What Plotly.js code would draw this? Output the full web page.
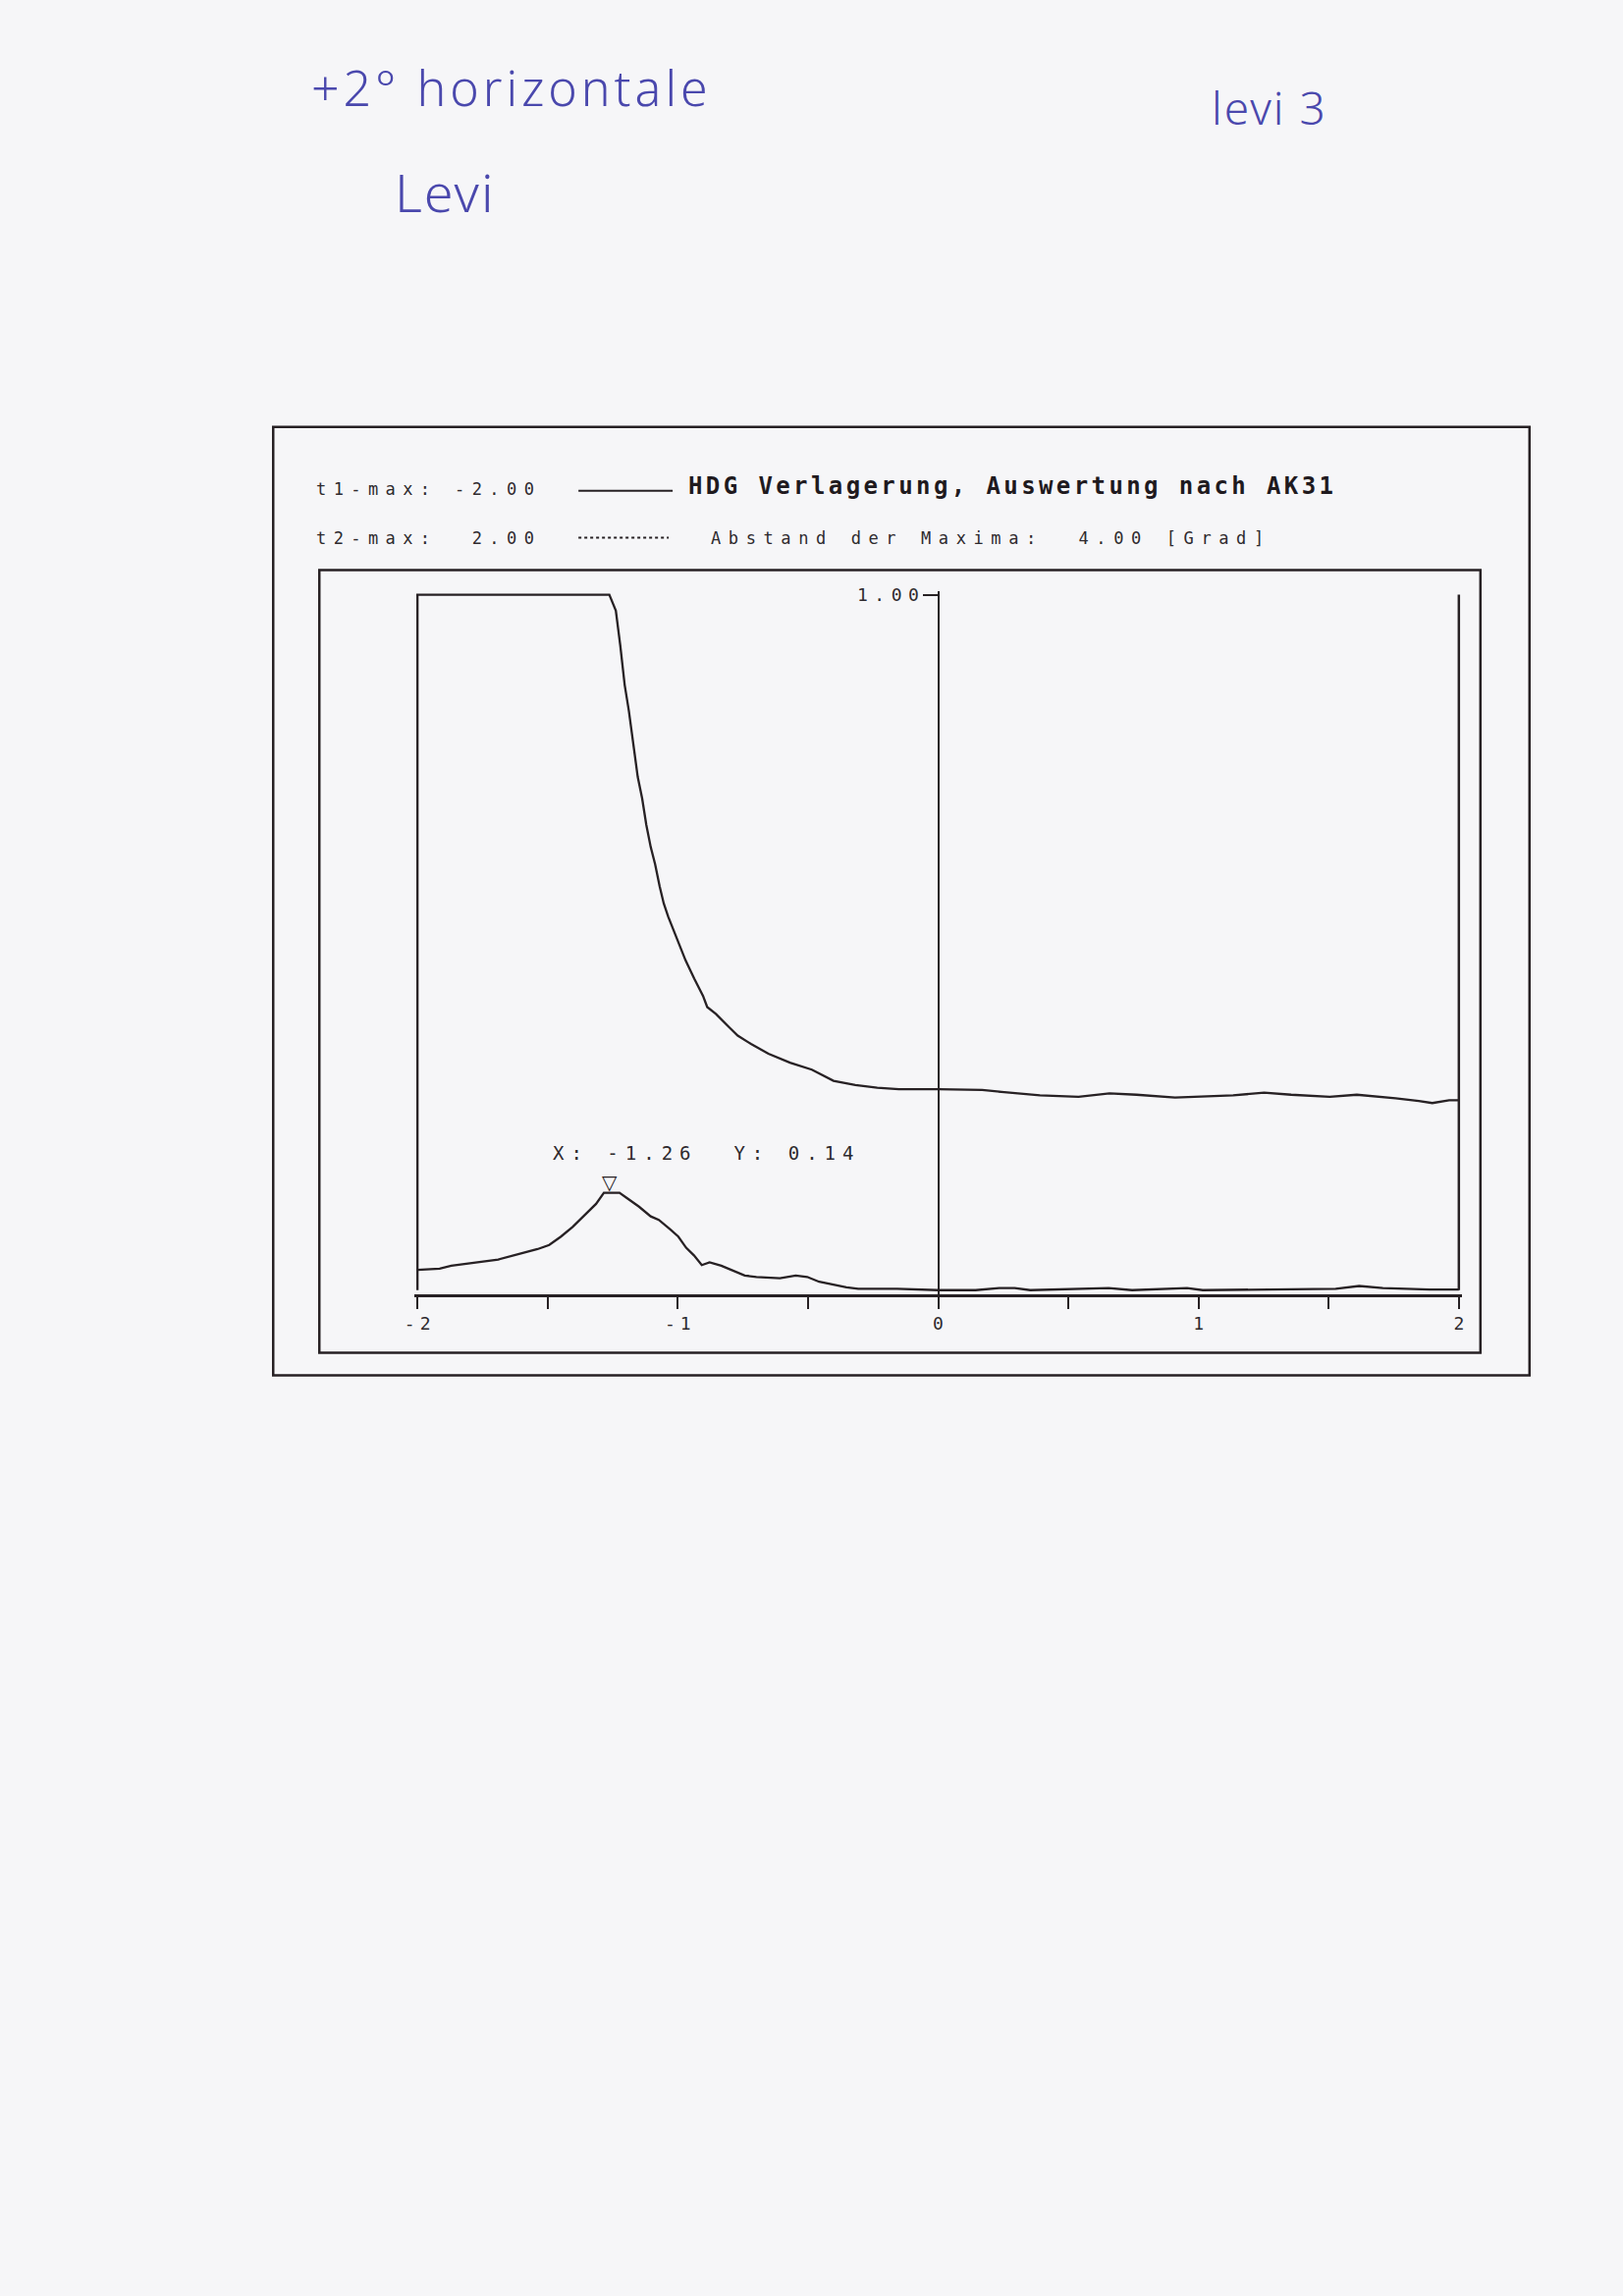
<!DOCTYPE html>
<html>
<head>
<meta charset="utf-8">
<script src="https://cdn.plot.ly/plotly-3.0.1.min.js"></script>
<style>
html,body{margin:0;padding:0;background:#f6f6f8;}
#chart{width:1653px;height:2338px;}
</style>
</head>
<body>
<div id="chart"></div>
<script>
// ---------------- data ----------------
const t1X = [-2.0, -2.0, -1.263, -1.238, -1.221, -1.204, -1.188, -1.171, -1.154, -1.137, -1.121, -1.104,
  -1.087, -1.070, -1.054, -1.037, -1.004, -0.970, -0.937, -0.903, -0.887, -0.853, -0.803, -0.770,
  -0.719, -0.652, -0.569, -0.485, -0.402, -0.318, -0.234, -0.151, 0.0, 0.169, 0.243, 0.391, 0.539,
  0.658, 0.762, 0.910, 1.133, 1.252, 1.356, 1.504, 1.608, 1.712, 1.757, 1.846, 1.898, 1.963, 2.0];
const t1Y = [0.0, 1.0, 1.0, 0.977, 0.927, 0.870, 0.833, 0.789, 0.738, 0.707, 0.669, 0.637,
  0.612, 0.581, 0.556, 0.537, 0.505, 0.474, 0.448, 0.423, 0.407, 0.397, 0.378, 0.366,
  0.354, 0.340, 0.327, 0.317, 0.301, 0.295, 0.291, 0.289, 0.289, 0.288, 0.285, 0.280, 0.278,
  0.283, 0.281, 0.277, 0.280, 0.284, 0.281, 0.278, 0.281, 0.278, 0.276, 0.272, 0.269, 0.273, 0.273];

const t2X = [-2.0, -1.915, -1.870, -1.780, -1.690, -1.599, -1.539, -1.494, -1.449, -1.404, -1.359,
  -1.314, -1.284, -1.26, -1.224, -1.194, -1.149, -1.104, -1.073, -1.028, -0.998, -0.968, -0.938,
  -0.908, -0.878, -0.833, -0.788, -0.743, -0.698, -0.608, -0.547, -0.503, -0.457, -0.397, -0.352,
  -0.307, -0.157, 0.0, 0.144, 0.234, 0.294, 0.354, 0.535, 0.655, 0.745, 0.956, 1.016, 1.226,
  1.527, 1.617, 1.708, 1.888, 2.0];
const t2Y = [0.029, 0.031, 0.035, 0.039, 0.044, 0.053, 0.059, 0.065, 0.077, 0.091, 0.107,
  0.124, 0.140, 0.140, 0.140, 0.132, 0.120, 0.106, 0.101, 0.087, 0.077, 0.061, 0.050,
  0.036, 0.040, 0.035, 0.028, 0.021, 0.019, 0.017, 0.021, 0.019, 0.012, 0.007, 0.004,
  0.002, 0.002, 0.0, 0.0, 0.003, 0.003, 0.0, 0.002, 0.003, 0.0, 0.003, 0.0, 0.001,
  0.002, 0.006, 0.003, 0.001, 0.001];

const xTickVals = [-2, -1.5, -1, -0.5, 0, 0.5, 1, 1.5, 2];
const xTickLabels = ['-2', '', '-1', '', '0', '', '1', '', '2'];
const yTickVals = [1];
const yTickLabels = ['1.00'];

const peakX = -1.26;
const peakY = 0.14;
const t1Max = -2.00;
const t2Max = 2.00;
const maxDistance = 4.00;
const chartTitle = 'HDG Verlagerung, Auswertung nach AK31';
const distanceLabel = 'Abstand der Maxima';
const unitLabel = '[Grad]';
const handNotes = ['+2° horizontale', 'Levi', 'levi 3'];

// ---------------- geometry helpers ----------------
const W = 1653, H = 2338;
const X_RANGE = [-2.012, 2.012];
const Y_RANGE = [-0.006, 1.005];
const L = 421.8, R = 1489.2, T = 601.5, B = 1318.5;
const px = x => (x - L) / (R - L);
const py = y => (B - y) / (B - T);
const INK = '#272124';
const TXT = '#2e2a2e';
const BLUE = '#4a48ad';
const MONO = 'DejaVu Sans Mono, Liberation Mono, monospace';

function spaced(str, ls) {
  if (!str || str.length < 2) return str;
  return '<span style="letter-spacing:' + ls + 'px">' + str.slice(0, -1) + '</span>' + str.slice(-1);
}

const traces = [
  {x: t1X, y: t1Y, type: 'scatter', mode: 'lines', name: 't1',
   line: {color: INK, width: 2.3}, hoverinfo: 'skip'},
  {x: t2X, y: t2Y, type: 'scatter', mode: 'lines', name: 't2',
   line: {color: INK, width: 2.3}, hoverinfo: 'skip'}
];

const smallFont = {family: MONO, size: 17, color: TXT};

const annotations = [
  {xref: 'paper', yref: 'paper', x: px(320), y: py(497), xanchor: 'left', yanchor: 'middle',
   text: spaced('t1-max: ' + t1Max.toFixed(2), 7.4), showarrow: false, font: smallFont},
  {xref: 'paper', yref: 'paper', x: px(320), y: py(547), xanchor: 'left', yanchor: 'middle',
   text: spaced('t2-max:  ' + t2Max.toFixed(2), 7.4), showarrow: false, font: smallFont},
  {xref: 'paper', yref: 'paper', x: px(699), y: py(494), xanchor: 'left', yanchor: 'middle',
   text: spaced(chartTitle, 3.4), showarrow: false,
   font: {family: MONO, size: 24, color: '#1f1a1e', weight: 'bold'}},
  {xref: 'paper', yref: 'paper', x: px(722), y: py(547), xanchor: 'left', yanchor: 'middle',
   text: spaced(distanceLabel + ':  ' + maxDistance.toFixed(2) + ' ' + unitLabel, 7.6),
   showarrow: false, font: smallFont},
  {xref: 'x', yref: 'y', x: peakX, y: peakY, xanchor: 'left', yanchor: 'middle',
   xshift: -60, yshift: 41,
   text: spaced('X: ' + peakX.toFixed(2) + '  Y: ' + peakY.toFixed(2), 7.0),
   showarrow: false, font: {family: MONO, size: 19, color: TXT}},
  {xref: 'x', yref: 'y', x: peakX, y: peakY, xanchor: 'center', yanchor: 'middle',
   yshift: 11, text: '▽', showarrow: false,
   font: {family: 'DejaVu Sans', size: 20, color: INK}},
  // handwritten notes
  {xref: 'paper', yref: 'paper', x: px(315), y: py(88), xanchor: 'left', yanchor: 'middle',
   text: spaced(handNotes[0], 4), showarrow: false,
   font: {family: 'Noto Sans', size: 50, color: BLUE, weight: 300}},
  {xref: 'paper', yref: 'paper', x: px(400), y: py(194), xanchor: 'left', yanchor: 'middle',
   text: spaced(handNotes[1], 2), showarrow: false,
   font: {family: 'Noto Sans', size: 54, color: BLUE, weight: 300}},
  {xref: 'paper', yref: 'paper', x: px(1232), y: py(108), xanchor: 'left', yanchor: 'middle',
   text: spaced(handNotes[2], 2), showarrow: false,
   font: {family: 'Noto Sans', size: 46, color: BLUE, weight: 300}}
];

const shapes = [
  // outer frame
  {type: 'rect', xref: 'paper', yref: 'paper', x0: px(278), x1: px(1558), y0: py(1401), y1: py(434),
   line: {color: INK, width: 2.5}},
  // inner frame
  {type: 'rect', xref: 'paper', yref: 'paper', x0: px(325), x1: px(1508), y0: py(1378), y1: py(580),
   line: {color: INK, width: 2.5}},
  // legend samples
  {type: 'line', xref: 'paper', yref: 'paper', x0: px(589), x1: px(685), y0: py(499), y1: py(499),
   line: {color: INK, width: 2}},
  {type: 'line', xref: 'paper', yref: 'paper', x0: px(589), x1: px(681), y0: py(547), y1: py(547),
   line: {color: INK, width: 2, dash: 'dot'}},
  // right boundary of the plot at x max
  {type: 'line', xref: 'x', yref: 'y', x0: xTickVals[xTickVals.length - 1], x1: xTickVals[xTickVals.length - 1],
   y0: 0, y1: yTickVals[0], line: {color: INK, width: 2.5}}
];

const layout = {
  width: W, height: H,
  paper_bgcolor: '#f6f6f8', plot_bgcolor: 'rgba(0,0,0,0)',
  margin: {l: L, r: W - R, t: T, b: H - B, pad: 0},
  showlegend: false,
  hovermode: false,
  font: {family: MONO, color: TXT},
  xaxis: {
    range: X_RANGE, domain: [0, 1], fixedrange: true,
    showline: true, linecolor: INK, linewidth: 2.5,
    showgrid: false, zeroline: false,
    ticks: 'outside', ticklen: 12, tickwidth: 2, tickcolor: INK,
    tickmode: 'array', tickvals: xTickVals,
    ticktext: xTickLabels.map(s => spaced(s, 5)),
    tickfont: {family: MONO, size: 18, color: TXT}
  },
  yaxis: {
    range: Y_RANGE, fixedrange: true,
    anchor: 'free', position: (0 - X_RANGE[0]) / (X_RANGE[1] - X_RANGE[0]),
    showline: true, linecolor: INK, linewidth: 2.3,
    showgrid: false, zeroline: false,
    ticks: 'outside', ticklen: 15, tickwidth: 2, tickcolor: INK,
    tickmode: 'array', tickvals: yTickVals,
    ticktext: yTickLabels.map(s => spaced(s, 6.5)),
    tickfont: {family: MONO, size: 18, color: TXT}
  },
  annotations: annotations,
  shapes: shapes
};

Plotly.newPlot('chart', traces, layout, {staticPlot: true, displayModeBar: false});
</script>
</body>
</html>
